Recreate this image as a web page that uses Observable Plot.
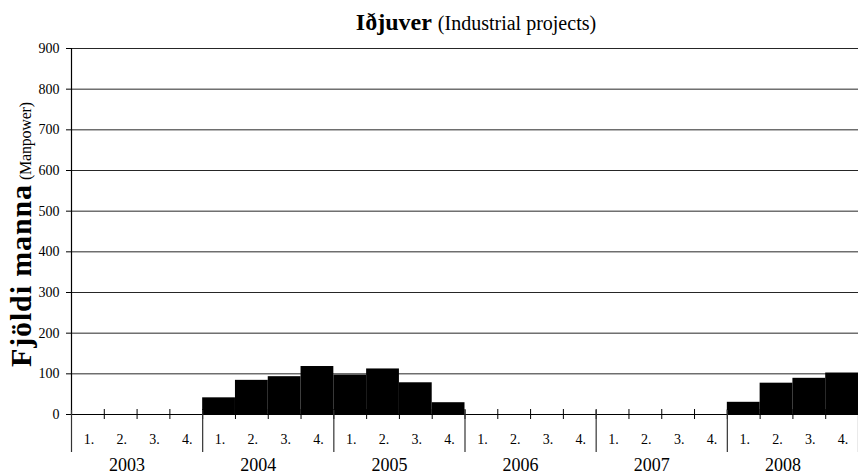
<!DOCTYPE html>
<html><head><meta charset="utf-8">
<script src="https://cdn.jsdelivr.net/npm/d3@7"></script>
<script src="https://cdn.jsdelivr.net/npm/@observablehq/plot@0.6"></script>
<style>
html,body{margin:0;padding:0;background:#fff;overflow:hidden;}
body{width:858px;height:474px;position:relative;font-family:"Liberation Serif",serif;}
#title{position:absolute;left:94px;top:0;width:764px;height:40px;box-sizing:border-box;padding-top:5px;line-height:35px;font-family:"Liberation Serif",serif;font-size:24px;text-align:center;white-space:nowrap;color:#000;}
#title b{font-family:"Liberation Serif",serif;font-weight:bold;}
#title .sub{font-family:"Liberation Serif",serif;font-size:20px;font-weight:normal;}
#chart{position:absolute;left:0;top:40px;}
#chart svg, #chart svg text{font-family:"Liberation Serif",serif;}
</style></head><body>
<div id="title"><b>Iðjuver</b> <span class="sub">(Industrial projects)</span></div>
<div id="chart"></div>
<script>
const years = ["2003", "2004", "2005", "2006", "2007", "2008"];
const quarterLabels = ["1.", "2.", "3.", "4."];
const manpower = [0, 0, 0, 0, 41, 84, 93, 118, 97, 112, 78, 29, 0, 0, 0, 0, 0, 0, 0, 0, 30, 77, 89, 102];
const yTicks = [0, 100, 200, 300, 400, 500, 600, 700, 800, 900];
const yTitleBold = "Fjöldi manna";
const yTitleNormal = "(Manpower)";

const serif = "Liberation Serif, serif";
const rows = manpower.map((v, i) => ({i, year: years[Math.floor(i / 4)], quarter: quarterLabels[i % 4], value: v}));
const nQ = manpower.length;
const boundaries = d3.range(nQ + 1);
const yearStarts = d3.range(0, nQ + 1, 4);
const quarterCenters = d3.range(nQ).map(i => i + 0.5);
const yearCenters = years.map((y, k) => k * 4 + 2);

const plot = Plot.plot({
  width: 858,
  height: 434,
  marginLeft: 71,
  marginRight: 0,
  marginTop: 8,
  marginBottom: 60,
  style: {fontFamily: serif, fontSize: "14px", color: "#000", background: "#fff"},
  x: {domain: [0, nQ], axis: null},
  y: {domain: [0, 900], axis: null},
  marks: [
    Plot.gridY({ticks: yTicks, stroke: "#000", strokeOpacity: 0.85, strokeWidth: 1}),
    Plot.rectY(rows.filter(d => d.value > 0), {x1: "i", x2: d => d.i + 1, y: "value", fill: "#000", insetLeft: 0, insetRight: 0}),
    Plot.ruleX([0], {stroke: "#000", strokeWidth: 1.2}),
    Plot.ruleY([0], {stroke: "#000", strokeWidth: 1.2}),
    Plot.axisY({ticks: yTicks, tickSize: 5, tickPadding: 7, label: null, fontSize: 14, fontFamily: serif, tickFormat: d => String(d)}),
    Plot.ruleX(boundaries, {x: d => d, y1: 0, y2: 0, insetTop: -5, insetBottom: -5, stroke: "#000", strokeWidth: 1}),
    Plot.ruleX(yearStarts, {x: d => d, y1: 0, y2: 0, insetTop: -4, insetBottom: -38, stroke: "#333", strokeWidth: 1.2}),
    Plot.axisX({ticks: quarterCenters, tickSize: 0, tickPadding: 20, label: null, fontSize: 14, fontFamily: serif, dx: 1, tickFormat: v => quarterLabels[Math.floor(v) % 4]}),
    Plot.axisX({ticks: yearCenters, tickSize: 0, tickPadding: 44, label: null, fontSize: 18, fontFamily: serif, dx: -10, tickFormat: v => years[(v - 2) / 4]})
  ]
});
document.getElementById("chart").appendChild(plot);

const svg = d3.select(plot);
svg.append("text")
  .attr("transform", "translate(31,327) rotate(-90)")
  .attr("text-anchor", "start")
  .attr("fill", "#000")
  .attr("font-family", serif)
  .attr("font-weight", "bold")
  .attr("font-size", 30)
  .attr("textLength", 182)
  .attr("lengthAdjust", "spacing")
  .text(yTitleBold);
svg.append("text")
  .attr("transform", "translate(31,140) rotate(-90)")
  .attr("text-anchor", "start")
  .attr("fill", "#000")
  .attr("font-family", serif)
  .attr("font-weight", "normal")
  .attr("font-size", 16)
  .attr("textLength", 78)
  .attr("lengthAdjust", "spacing")
  .text(yTitleNormal);
</script>
</body></html>
